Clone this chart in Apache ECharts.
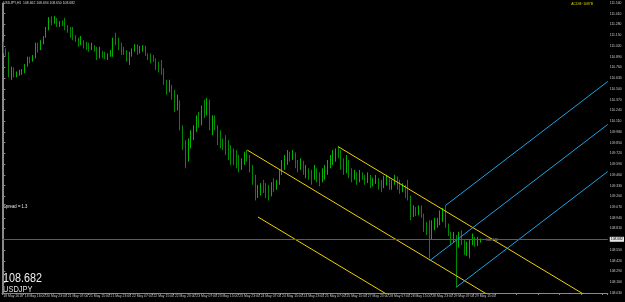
<!DOCTYPE html>
<html><head><meta charset="utf-8">
<script src="https://cdn.jsdelivr.net/npm/echarts@6/dist/echarts.min.js"></script>
<style>html,body{margin:0;padding:0;background:#000}#c{width:625px;height:302px}</style>
</head><body><div id="c"></div>
<script>
const symbol = 'USDJPY';
const headerText = 'USDJPY,H1  108.662 108.694 108.650 108.682';
const spreadText = 'Spread = 1.3';
const bidPrice = 108.682;
const totalSlots = 226;
const xTickLabels = ['18 May 2018','18 May 16:00','20 May 23:00','21 May 07:00','21 May 15:00','21 May 23:00','22 May 07:00','22 May 15:00','22 May 23:00','23 May 07:00','23 May 15:00','23 May 23:00','24 May 07:00','24 May 15:00','24 May 23:00','25 May 07:00','25 May 15:00','27 May 23:00','28 May 07:00','28 May 15:00','28 May 23:00','29 May 07:00','29 May 15:00'];
const opens = [111.05,110.96,110.92,110.68,110.72,110.66,110.69,110.70,110.72,110.78,
110.86,110.84,110.89,111.02,110.98,111.06,111.12,111.22,111.34,111.30,
111.33,111.28,111.30,111.29,111.24,111.20,111.15,111.12,111.09,111.04,
111.10,111.02,111.00,110.98,111.02,110.97,110.88,110.96,110.90,110.88,
110.91,110.95,111.08,111.06,111.00,110.95,110.93,110.86,110.90,110.96,
111.00,110.94,110.98,110.99,110.93,110.88,110.86,110.85,110.76,110.75,
110.70,110.58,110.47,110.55,110.42,110.28,110.35,110.05,109.85,109.65,
109.85,109.95,110.00,110.12,110.08,110.25,110.20,110.35,110.05,110.12,
110.04,109.88,109.84,109.80,109.74,109.70,109.66,109.62,109.58,109.55,
109.60,109.70,109.66,109.52,109.40,109.25,109.28,109.32,109.30,109.24,
109.22,109.33,109.30,109.36,109.48,109.60,109.66,109.70,109.68,109.72,
109.60,109.55,109.62,109.50,109.52,109.45,109.40,109.52,109.42,109.38,
109.48,109.50,109.60,109.66,109.72,109.74,109.70,109.58,109.50,109.62,
109.46,109.42,109.46,109.40,109.48,109.44,109.38,109.45,109.36,109.40,
109.42,109.33,109.30,109.40,109.42,109.34,109.36,109.43,109.32,109.27,
109.30,109.22,109.20,108.96,109.04,109.00,109.05,108.98,108.82,108.78,
108.70,108.85,108.88,108.90,108.98,109.00,108.86,108.76,108.66,108.70,
108.58,108.72,108.66,108.55,108.60,108.62,108.70,108.64,108.68];
const highs = [111.07,110.99,110.95,110.77,110.76,110.71,110.73,110.74,110.80,110.89,
110.89,110.91,111.06,111.06,111.09,111.14,111.25,111.37,111.38,111.38,
111.36,111.32,111.33,111.36,111.27,111.25,111.25,111.15,111.12,111.14,
111.09,111.07,111.06,111.06,111.03,111.01,111.01,110.96,110.95,110.93,
110.97,111.12,111.18,111.12,111.06,111.01,110.97,110.95,110.99,111.04,
111.04,111.02,111.03,111.02,110.93,110.93,110.91,110.87,110.83,110.85,
110.75,110.61,110.61,110.55,110.49,110.43,110.36,110.06,109.88,109.90,
110.00,110.06,110.18,110.22,110.30,110.37,110.39,110.37,110.18,110.18,
110.06,110.00,109.90,109.94,109.88,109.82,109.78,109.76,109.70,109.66,
109.74,109.76,109.70,109.58,109.46,109.34,109.36,109.40,109.36,109.34,
109.37,109.42,109.40,109.52,109.64,109.70,109.76,109.74,109.76,109.73,
109.64,109.66,109.63,109.58,109.54,109.52,109.58,109.54,109.49,109.54,
109.58,109.64,109.70,109.76,109.78,109.81,109.76,109.66,109.70,109.64,
109.54,109.52,109.49,109.52,109.49,109.46,109.49,109.46,109.42,109.46,
109.42,109.40,109.45,109.46,109.42,109.40,109.46,109.44,109.40,109.36,
109.34,109.40,109.21,109.09,109.07,109.09,109.09,108.99,108.89,108.91,
108.91,108.94,108.94,109.03,109.06,109.09,108.87,108.77,108.77,108.73,
108.77,108.79,108.67,108.65,108.67,108.75,108.71,108.71,108.69];
const lows = [110.93,110.90,110.64,110.61,110.64,110.64,110.66,110.67,110.69,110.77,
110.81,110.83,110.87,110.94,110.97,111.04,111.12,111.21,111.27,111.29,
111.25,111.25,111.26,111.21,111.18,111.12,111.09,111.07,111.01,111.03,
110.99,110.97,110.95,110.97,110.95,110.85,110.87,110.87,110.86,110.85,
110.89,110.89,111.03,110.97,110.91,110.91,110.83,110.79,110.89,110.95,
110.91,110.93,110.95,110.90,110.85,110.81,110.83,110.73,110.70,110.67,
110.55,110.43,110.46,110.37,110.22,110.24,110.00,109.76,109.54,109.62,
109.78,109.88,109.98,110.03,110.06,110.15,110.18,110.00,109.94,110.00,
109.82,109.78,109.76,109.70,109.64,109.58,109.58,109.54,109.49,109.52,
109.58,109.62,109.49,109.34,109.15,109.18,109.21,109.24,109.18,109.15,
109.20,109.25,109.28,109.34,109.46,109.52,109.58,109.62,109.64,109.54,
109.49,109.52,109.46,109.42,109.40,109.34,109.40,109.37,109.32,109.37,
109.40,109.46,109.54,109.58,109.62,109.66,109.52,109.46,109.48,109.42,
109.37,109.40,109.34,109.37,109.40,109.34,109.36,109.30,109.32,109.35,
109.28,109.25,109.30,109.33,109.28,109.28,109.34,109.28,109.23,109.25,
109.18,109.15,108.91,108.95,108.96,108.97,108.94,108.77,108.73,108.45,
108.68,108.79,108.82,108.85,108.89,108.82,108.72,108.61,108.64,108.10,
108.58,108.61,108.49,108.48,108.45,108.61,108.59,108.60,108.64];
const closes = [110.96,110.92,110.68,110.72,110.66,110.69,110.70,110.72,110.78,110.86,
110.84,110.89,111.02,110.98,111.06,111.12,111.22,111.34,111.30,111.33,
111.28,111.30,111.29,111.24,111.20,111.15,111.12,111.09,111.04,111.10,
111.02,111.00,110.98,111.02,110.97,110.88,110.96,110.90,110.88,110.91,
110.95,111.08,111.06,111.00,110.95,110.93,110.86,110.90,110.96,111.00,
110.94,110.98,110.99,110.93,110.88,110.86,110.85,110.76,110.75,110.70,
110.58,110.47,110.55,110.42,110.28,110.35,110.05,109.85,109.65,109.85,
109.95,110.00,110.12,110.08,110.25,110.20,110.35,110.05,110.12,110.04,
109.88,109.84,109.80,109.74,109.70,109.66,109.62,109.58,109.55,109.60,
109.70,109.66,109.52,109.40,109.25,109.28,109.32,109.30,109.24,109.22,
109.33,109.30,109.36,109.48,109.60,109.66,109.70,109.68,109.72,109.60,
109.55,109.62,109.50,109.52,109.45,109.40,109.52,109.42,109.38,109.48,
109.50,109.60,109.66,109.72,109.74,109.70,109.58,109.50,109.62,109.46,
109.42,109.46,109.40,109.48,109.44,109.38,109.45,109.36,109.40,109.42,
109.33,109.30,109.40,109.42,109.34,109.36,109.43,109.32,109.27,109.30,
109.22,109.20,108.96,109.04,109.00,109.05,108.98,108.82,108.78,108.70,
108.85,108.88,108.90,108.98,109.00,108.86,108.76,108.66,108.70,108.58,
108.72,108.66,108.55,108.60,108.62,108.70,108.64,108.68,108.682];
// trend lines: [startBar, startPrice, endBar, endPrice]
const yellowLines = [[91,109.76,182,107.985],[95,108.95,150,107.88],[125,109.80,225.5,107.84]];
const blueLines = [[165,109.09,225.5,110.59],[159,108.42,225.5,110.07],[169,108.10,225.5,109.50]];
const yMin = 108.03, yMax = 111.54, yStep = 0.13;

const cats = [];
for (let i = 0; i < totalSlots; i++) cats.push(String(i));
const ohlc = opens.map((o, i) => [o, closes[i], lows[i], highs[i]]);

const lineSeries = [];
yellowLines.forEach(l => lineSeries.push({type:'line', xAxisIndex:1, yAxisIndex:0, data:[[l[0],l[1]],[l[2],l[3]]], showSymbol:false, symbol:'none', silent:true, clip:true, lineStyle:{color:'#f2d000', width:1}, z:3}));
blueLines.forEach(l => lineSeries.push({type:'line', xAxisIndex:1, yAxisIndex:0, data:[[l[0],l[1]],[l[2],l[3]]], showSymbol:false, symbol:'none', silent:true, clip:true, lineStyle:{color:'#1ea2e2', width:1}, z:3}));

const chart = echarts.init(document.getElementById('c'), null, {renderer:'canvas'});
const font = 'Liberation Sans';
chart.setOption({
  backgroundColor:'#000',
  animation:false,
  grid:{left:2, right:15, top:3, bottom:9},
  xAxis:[{
    type:'category', data:cats, boundaryGap:true,
    axisLine:{show:true, lineStyle:{color:'#8a8a8a', width:1}},
    axisTick:{show:true, interval:7, length:2, lineStyle:{color:'#8a8a8a'}},
    axisLabel:{show:true, interval:7, showMinLabel:true, hideOverlap:false, fontSize:3.4, color:'#c8c8c8', fontFamily:font, align:'left', margin:2,
      formatter:(v, i) => { const k = i / 8; return (i % 8 === 0 && k < xTickLabels.length) ? xTickLabels[k] : ''; }},
    splitLine:{show:false}
  },{
    type:'value', min:-0.5, max:totalSlots-0.5, show:false
  }],
  yAxis:[{
    type:'value', position:'right', min:yMin, max:yMax, interval:yStep,
    axisLine:{show:true, lineStyle:{color:'#8a8a8a', width:1}},
    axisTick:{show:true, length:2, lineStyle:{color:'#8a8a8a'}},
    axisLabel:{fontSize:3.4, color:'#c8c8c8', fontFamily:font, margin:2, formatter:v => v.toFixed(3)},
    splitLine:{show:false}
  },{
    type:'value', position:'left', min:yMin, max:yMax, show:true,
    axisLine:{show:true, lineStyle:{color:'#8a8a8a', width:1}},
    axisTick:{show:false}, axisLabel:{show:false}, splitLine:{show:false}
  }],
  series:[{
    type:'candlestick', data:ohlc, barWidth:1,
    itemStyle:{color:'#00b400', color0:'#008a00', borderColor:'#00b400', borderColor0:'#008a00', borderWidth:1},
    markLine:{silent:true, symbol:'none', animation:false,
      data:[{yAxis:bidPrice}],
      lineStyle:{color:'#5c5c5c', type:'solid', width:1},
      label:{show:true, position:'end', distance:2, formatter:bidPrice.toFixed(3), fontSize:3.4, fontFamily:font,
        color:'#000', backgroundColor:'#e6e6e6', padding:[1,1]}
    },
    z:2
  }].concat(lineSeries),
  graphic:[
    {type:'text', left:3, top:2, style:{text:headerText, fill:'#d8d8d8', font:'3.4px '+font}},
    {type:'text', right:32, top:3, style:{text:'ACDM~1087B', fill:'#d8d000', font:'3.4px '+font}},
    {type:'text', x:3, y:204, scaleX:0.85, style:{text:spreadText, fill:'#e8e8e8', font:'5px '+font}},
    {type:'text', x:3, y:272, scaleX:0.83, style:{text:bidPrice.toFixed(3), fill:'#f0f0f0', font:'13px '+font}},
    {type:'text', x:3, y:285, scaleX:0.83, style:{text:symbol, fill:'#e0e0e0', font:'9px '+font}},
    {type:'text', left:486, top:239, style:{text:'108.682', fill:'#a0a0a0', font:'3.4px '+font}}
  ]
});
</script></body></html>
